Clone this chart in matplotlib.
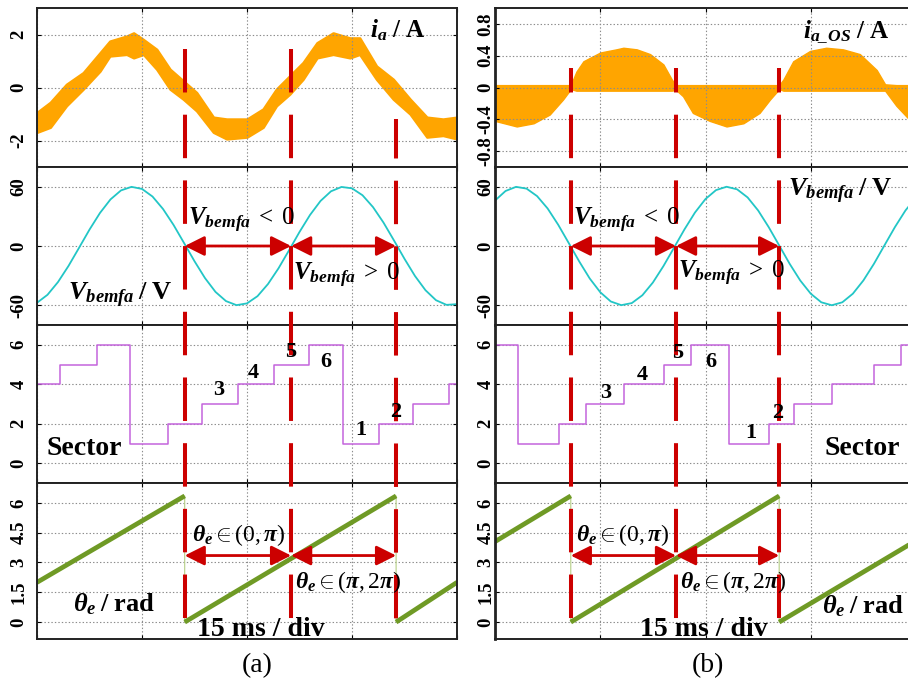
import matplotlib
matplotlib.use("Agg")
import matplotlib.pyplot as plt
from matplotlib.lines import Line2D
from matplotlib import transforms

plt.rcParams.update({
    "font.family": ["Liberation Serif", "DejaVu Serif"],
    "mathtext.fontset": "custom",
    "mathtext.rm": "Liberation Serif",
    "mathtext.it": "Liberation Serif:italic",
    "mathtext.bf": "Liberation Serif:bold",
    "mathtext.bfit": "Liberation Serif:italic:bold",
    "lines.scale_dashes": False,
})

# ---------------- data (time in ms) ----------------
# (a) phase current band: time, upper and lower envelope of the ripple
ia_t = [0, 1.9, 4.2, 6.6, 9.0, 10.4, 12.8, 13.8, 15.2, 17.1, 19.0, 20.9, 22.8, 25.2, 27.1,
        30.0, 32.3, 34.2, 36.1, 38.0, 40.0, 42.3, 44.7, 46.1, 48.5, 50.9, 53.3, 55.7, 58.0, 60.0]
ia_hi = [-0.94, -0.56, 0.12, 0.56, 1.31, 1.75, 1.94, 2.06, 1.81, 1.44, 0.69, 0.25, -0.19, -1.12, -1.19,
         -1.19, -0.81, -0.06, 0.44, 0.94, 1.69, 2.06, 1.87, 1.87, 0.81, 0.31, -0.44, -1.12, -1.19, -1.12]
ia_lo = [-1.69, -1.50, -0.69, -0.06, 0.62, 1.19, 1.25, 1.12, 1.25, 0.69, -0.06, -0.44, -0.88, -1.69, -1.94,
         -1.87, -1.50, -0.69, -0.25, 0.31, 1.12, 1.25, 1.12, 1.25, 0.31, -0.44, -1.00, -1.87, -1.81, -1.94]

# (b) offset current band
ios_t = [0, 3.1, 5.5, 7.8, 9.7, 10.8, 11.6, 12.6, 15.0, 17.3, 18.3, 20.2, 22.1, 24.0, 25.2, 25.8,
         26.8, 28.2, 30.6, 33.0, 35.4, 37.7, 39.2, 40.5, 41.1, 42.5, 44.9, 47.2, 49.6, 52.0, 54.4,
         55.6, 57.2, 58.8, 60.0]
ios_hi = [0.03, 0.03, 0.03, 0.03, 0.03, 0.03, 0.20, 0.33, 0.44, 0.48, 0.50, 0.48, 0.42, 0.29, 0.10, 0.03,
          0.03, 0.03, 0.03, 0.03, 0.03, 0.03, 0.03, 0.03, 0.10, 0.33, 0.46, 0.50, 0.48, 0.42, 0.22,
          0.04, 0.03, 0.03, 0.03]
ios_lo = [-0.42, -0.49, -0.45, -0.34, -0.15, -0.02, -0.04, -0.04, -0.04, -0.04, -0.04, -0.04, -0.04, -0.04, -0.04, -0.03,
          -0.11, -0.32, -0.42, -0.49, -0.45, -0.32, -0.15, -0.02, -0.04, -0.04, -0.04, -0.04, -0.04, -0.04, -0.04,
          -0.04, -0.23, -0.38, -0.43]

# back-EMF samples, every 1.5 ms
v_t = [i * 1.5 for i in range(41)]
va_bemf = [-57.5, -49.4, -36.5, -20.2, -1.9, 16.6, 33.5, 47.2, 56.3, 59.9, 57.8, 50.1, 37.5, 21.4,
           3.1, -15.4, -32.5, -46.5, -55.8, -59.9, -58.1, -50.8, -38.5, -22.6, -4.4, 14.2, 31.4,
           45.6, 55.4, 59.8, 58.4, 51.4, 39.4, 23.7, 5.6, -13.0, -30.4, -44.8, -54.9, -59.6, -58.9]
vb_bemf = [46.0, 55.7, 59.9, 58.1, 50.5, 38.0, 21.6, 3.1, -15.6, -32.9, -46.8, -56.2, -59.9, -57.8,
           -49.9, -37.0, -20.4, -1.9, 16.8, 33.9, 47.6, 56.6, 60.0, 57.4, 49.2, 36.0, 19.2, 0.6,
           -18.1, -34.9, -48.3, -57.0, -60.0, -57.0, -48.3, -34.9, -18.1, 0.6, 19.2, 36.0, 49.2]

# sector index: switching instants and the sector held from each instant
sec_a_t = [0, 3.3, 8.5, 13.3, 18.7, 23.5, 28.7, 33.8, 38.9, 43.7, 48.8, 53.7, 58.8, 60]
sec_a_v = [4, 5, 6, 1, 2, 3, 4, 5, 6, 1, 2, 3, 4, 4]
sec_b_t = [0, 3.3, 9.1, 13.0, 18.4, 24.1, 28.0, 33.4, 39.1, 42.6, 48.0, 54.0, 57.8, 60]
sec_b_v = [6, 1, 2, 3, 4, 5, 6, 1, 2, 3, 4, 5, 6, 6]

# electrical angle ramps (start / end of each ramp)
th_a_t = [0, 21.1, 21.1, 51.3, 51.3, 60]
th_a_v = [2.0, 6.35, 0.0, 6.35, 0.0, 2.0]
th_b_t = [0, 10.8, 10.8, 40.5, 40.5, 60]
th_b_v = [4.05, 6.35, 0.0, 6.35, 0.0, 4.1]

# instants where the angle wraps / passes pi
mark_a = [21.1, 36.3, 51.3]
mark_b = [10.8, 25.8, 40.5]
arrow_theta = 3.35

x_ticks = [0, 15, 30, 45, 60]
ia_ticks, ia_labels = [-2, 0, 2], ["-2", "0", "2"]
ios_ticks, ios_labels = [-0.8, -0.4, 0, 0.4, 0.8], ["-0.8", "-0.4", "0", "0.4", "0.8"]
v_ticks, v_labels = [-60, 0, 60], ["-60", "0", "60"]
sec_ticks, sec_labels = [0, 2, 4, 6], ["0", "2", "4", "6"]
th_ticks, th_labels = [0, 1.5, 3, 4.5, 6], ["0", "1.5", "3", "4.5", "6"]

# ---------------- style ----------------
ORANGE = "#ffa500"
CYAN = "#22c6c6"
PURPLE = "#c464dc"
GREEN = "#6f9a25"
RED = "#cc0000"

W, H = 908, 685
fig = plt.figure(figsize=(W / 100, H / 100), dpi=100)
rows_px = [(8, 167), (167, 325), (325, 483), (483, 639)]


def column(left_px, right_px, pad):
    axs = []
    for top, bot in rows_px:
        ax = fig.add_axes([left_px / W, 1 - bot / H, (right_px - left_px) / W, (bot - top) / H])
        ax.set_xlim(0, 60)
        ax.set_xticks(x_ticks)
        ax.set_xticklabels([])
        ax.grid(True, linestyle=(0, (1.0, 1.5)), color="#8c8c8c", linewidth=0.8)
        ax.tick_params(direction="in", length=3, top=True, right=True, width=0.8)
        ax.tick_params(axis="y", pad=pad, labelsize=13.5)
        for s in ax.spines.values():
            s.set_linewidth(1.4)
            s.set_color("#222222")
        axs.append(ax)
    return axs


def yaxis(ax, lim, ticks, labels):
    ax.set_ylim(*lim)
    ax.set_yticks(ticks)
    ax.set_yticklabels(labels, rotation=90, va="center")
    for t in ax.get_yticklabels():
        t.set_fontweight("bold")
        t.set_fontsize(13.5)


axA = column(37, 457, 7)
axB = column(495, 916, 0.5)
for ax in axB:
    ax.spines["left"].set_linewidth(2.0)

# current panels
axA[0].fill_between(ia_t, ia_lo, ia_hi, color=ORANGE, linewidth=1.8, edgecolor=ORANGE)
yaxis(axA[0], (-3, 3), ia_ticks, ia_labels)
axB[0].fill_between(ios_t, ios_lo, ios_hi, color=ORANGE, linewidth=1.0, edgecolor=ORANGE)
yaxis(axB[0], (-1, 1), ios_ticks, ios_labels)

# back-EMF panels
axA[1].plot(v_t, va_bemf, color=CYAN, linewidth=1.3)
axB[1].plot(v_t, vb_bemf, color=CYAN, linewidth=1.3)
for ax in (axA[1], axB[1]):
    yaxis(ax, (-80, 80), v_ticks, v_labels)

# sector panels
axA[2].plot(sec_a_t, sec_a_v, drawstyle="steps-post", color=PURPLE, linewidth=1.1)
axB[2].plot(sec_b_t, sec_b_v, drawstyle="steps-post", color=PURPLE, linewidth=1.1)
for ax in (axA[2], axB[2]):
    yaxis(ax, (-1, 7), sec_ticks, sec_labels)

# angle panels: thin wrap line plus thick ramps
for ax, tt, vv in ((axA[3], th_a_t, th_a_v), (axB[3], th_b_t, th_b_v)):
    ax.plot(tt, vv, color="#b5cf85", linewidth=0.8)
    for i in range(0, len(tt), 2):
        ax.plot(tt[i:i + 2], vv[i:i + 2], color=GREEN, linewidth=3.4, solid_capstyle="butt")
    yaxis(ax, (-0.85, 7.0), th_ticks, th_labels)

# double arrows between the marks
astyle = dict(arrowstyle="<|-|>,head_length=0.6,head_width=0.3", color=RED, lw=2.0,
              shrinkA=0, shrinkB=0, mutation_scale=20)
for axs, m in ((axA, mark_a), (axB, mark_b)):
    for k in range(2):
        axs[1].annotate("", xy=(m[k + 1], 0), xytext=(m[k], 0), arrowprops=astyle)
        axs[3].annotate("", xy=(m[k + 1], arrow_theta), xytext=(m[k], arrow_theta), arrowprops=astyle)


# dashed red marker lines running through all four rows
def marker(ax, t, top_px, phase_px):
    tr = transforms.blended_transform_factory(ax.transData, fig.transFigure)
    ln = Line2D([t, t], [1 - top_px / H, 1 - 622 / H], transform=tr, color=RED, linewidth=2.9,
                linestyle=(phase_px * 0.72, (31.3, 16.0)), dash_capstyle="butt", zorder=2)
    fig.add_artist(ln)


marker(axA[3], mark_a[0], 49, 0)
marker(axA[3], mark_a[1], 49, 0)
marker(axA[3], mark_a[2], 119, 4)
for t in mark_b:
    marker(axB[3], t, 68, 19)


def label(x_px, y_px, s, size, **kw):
    fig.text(x_px / W, 1 - y_px / H, s, fontsize=size, va="baseline", zorder=3, **kw)


ia_lab = r"$\mathbfit{i}_{\mathbfit{a}}\ \mathbf{/\ A}$"
ios_lab = r"$\mathbfit{i}_{\mathbfit{a\_OS}}\ \mathbf{/\ A}$"
vlab = r"$\mathbfit{V}_{\mathbfit{bemfa}}\;\mathbf{/\;V}$"
vneg = r"$\mathbfit{V}_{\mathbfit{bemfa}}\;<\;0$"
vpos = r"$\mathbfit{V}_{\mathbfit{bemfa}}\;>\;0$"
th1 = r"$\mathbfit{\theta}_{\mathbfit{e}}\in(0,\mathbfit{\pi})$"
th2 = r"$\mathbfit{\theta}_{\mathbfit{e}}\in(\mathbfit{\pi},2\mathbfit{\pi})$"
thlab = r"$\mathbfit{\theta}_{\mathbfit{e}}\;\mathbf{/\;rad}$"

# column (a)
label(370, 37, ia_lab, 18)
label(68, 300, vlab, 19)
label(188, 225, vneg, 18)
label(293, 280, vpos, 18)
label(47, 455, "Sector", 20, fontweight="bold")
for s, x, y in (("3", 213, 395), ("4", 248, 378), ("5", 285, 357), ("6", 320, 367), ("1", 355, 435), ("2", 390, 417)):
    label(x, y, s, 16, fontweight="bold")
label(192, 541, th1, 17)
label(295, 588, th2, 17)
label(73, 611, thlab, 19)
label(197, 636, "15 ms / div", 20, fontweight="bold")
label(257, 672, "(a)", 20, ha="center")

# column (b)
label(803, 37, ios_lab, 18)
label(788, 196, vlab, 19)
label(573, 225, vneg, 18)
label(678, 278, vpos, 18)
label(825, 455, "Sector", 20, fontweight="bold")
for s, x, y in (("3", 600, 398), ("4", 637, 380), ("5", 672, 358), ("6", 705, 367), ("1", 745, 438), ("2", 772, 418)):
    label(x, y, s, 16, fontweight="bold")
label(576, 541, th1, 17)
label(680, 588, th2, 17)
label(640, 636, "15 ms / div", 20, fontweight="bold")
label(822, 613, thlab, 19)
label(708, 672, "(b)", 20, ha="center")

fig.savefig("out.png", dpi=100)
